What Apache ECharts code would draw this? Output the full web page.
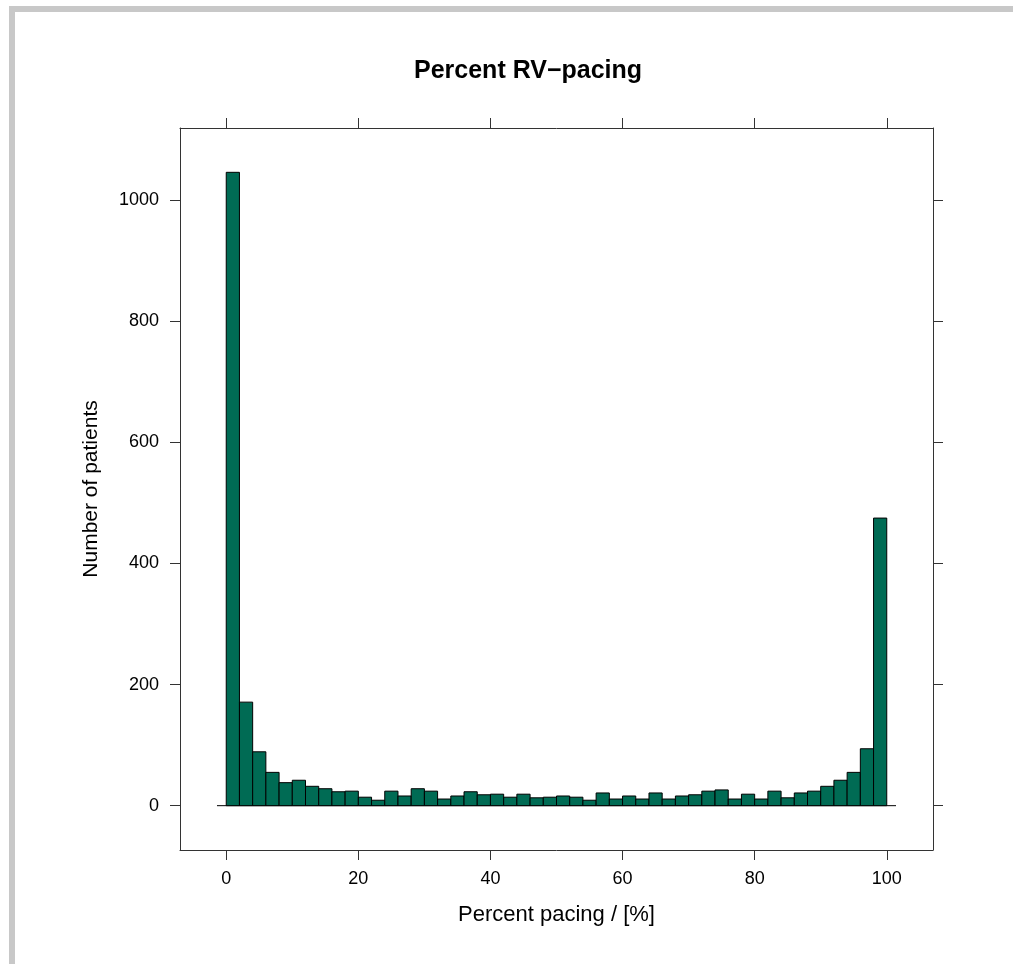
<!DOCTYPE html>
<html>
<head>
<meta charset="utf-8">
<script src="https://cdn.jsdelivr.net/npm/echarts@6/dist/echarts.min.js"></script>
<style>
  html, body { margin: 0; padding: 0; background: #fff; }
  #chart { width: 1013px; height: 964px; }
</style>
</head>
<body>
<div id="chart"></div>
<script>
// histogram bins (percent pacing), 2% wide
const binBreaks = [0, 2, 4, 6, 8, 10, 12, 14, 16, 18, 20, 22, 24, 26, 28, 30, 32, 34, 36, 38, 40,
  42, 44, 46, 48, 50, 52, 54, 56, 58, 60, 62, 64, 66, 68, 70, 72, 74, 76, 78, 80,
  82, 84, 86, 88, 90, 92, 94, 96, 98, 100];
const binCounts = [1046, 171, 89, 55, 38, 42, 32, 28, 23, 24, 14, 9, 24, 16, 28, 24, 11, 16, 23, 18,
  19, 14, 19, 13, 14, 16, 14, 9, 21, 11, 16, 11, 21, 11, 16, 18, 24, 26, 11, 19,
  11, 24, 13, 21, 24, 32, 42, 55, 94, 475];
const xTicks = [0, 20, 40, 60, 80, 100];
const yTicks = [0, 200, 400, 600, 800, 1000];
const baseline = [[-1.4, 0], [101.4, 0]];

const barColor = "#006B54";
const axisColor = "#333";
const font = "'Liberation Sans', Arial, sans-serif";

const histData = binCounts.map((c, i) => [binBreaks[i], binBreaks[i + 1], c]);

function axisX(pos, withLabels) {
  return {
    type: "value", position: pos, min: -7, max: 107,
    axisLine: { show: true, onZero: false, lineStyle: { color: axisColor, width: 1 } },
    axisTick: { show: true, customValues: xTicks, length: 10, inside: false, lineStyle: { color: axisColor } },
    axisLabel: { show: withLabels, customValues: xTicks, margin: 20, fontSize: 18, color: "#000", fontFamily: font,
      formatter: (v) => String(v) },
    splitLine: { show: false },
    name: withLabels ? "Percent pacing / [%]" : "",
    nameLocation: "middle", nameGap: 54,
    nameTextStyle: { fontSize: 22, color: "#000", fontFamily: font },
  };
}

function axisY(pos, withLabels) {
  return {
    type: "value", position: pos, min: -73.2, max: 1119.2,
    axisLine: { show: true, onZero: false, lineStyle: { color: axisColor, width: 1 } },
    axisTick: { show: true, customValues: yTicks, length: 10, inside: false, lineStyle: { color: axisColor } },
    axisLabel: { show: withLabels, customValues: yTicks, margin: 21, fontSize: 18, color: "#000", fontFamily: font,
      formatter: (v) => String(v) },
    splitLine: { show: false },
    name: withLabels ? "Number of patients" : "",
    nameLocation: "middle", nameGap: 78, nameRotate: 90,
    nameTextStyle: { fontSize: 21, color: "#000", fontFamily: font },
  };
}

const chart = echarts.init(document.getElementById("chart"), null, { renderer: "canvas" });
chart.setOption({
  animation: false,
  backgroundColor: "#fff",
  title: {
    text: "Percent RV\u2212pacing", left: 409, top: 54,
    textStyle: { fontSize: 25, fontWeight: "bold", color: "#000", fontFamily: font },
  },
  graphic: [
    { type: "rect", shape: { x: 9, y: 6, width: 1004, height: 6 }, style: { fill: "#c8c8c8" } },
    { type: "rect", shape: { x: 9, y: 6, width: 6, height: 958 }, style: { fill: "#c8c8c8" } },
  ],
  grid: { left: 180, right: 80, top: 128, bottom: 114, containLabel: false },
  xAxis: [axisX("bottom", true), axisX("top", false)],
  yAxis: [axisY("left", true), axisY("right", false)],
  series: [
    {
      type: "line", data: baseline, symbol: "none", silent: true,
      lineStyle: { color: "#000", width: 1 }, z: 1,
    },
    {
      type: "custom", data: histData, z: 2,
      renderItem: (params, api) => {
        const p0 = api.coord([api.value(0), api.value(2)]);
        const p1 = api.coord([api.value(1), 0]);
        return {
          type: "rect",
          shape: { x: p0[0], y: p0[1], width: p1[0] - p0[0], height: p1[1] - p0[1] },
          style: { fill: barColor, stroke: "#000", lineWidth: 1 },
        };
      },
    },
  ],
});
</script>
</body>
</html>
